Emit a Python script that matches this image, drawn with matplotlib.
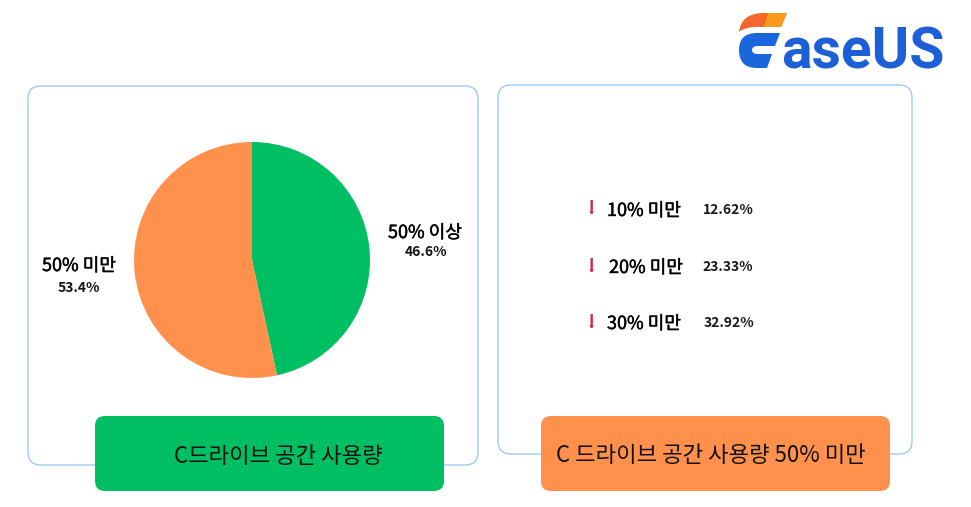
import matplotlib
matplotlib.use("Agg")
import matplotlib.pyplot as plt
import matplotlib.patheffects as pe
from matplotlib.patches import FancyBboxPatch, PathPatch
from matplotlib.path import Path

plt.rcParams['font.family'] = ['Noto Sans CJK KR', 'DejaVu Sans']

pie_labels = ['50% 이상', '50% 미만']
pie_values = [46.6, 53.4]
pie_colors = ['#00BF63', '#FF914D']
pie_pct = ['46.6%', '53.4%']
tier_labels = ['10% 미만', '20% 미만', '30% 미만']
tier_values = ['12.62%', '23.33%', '32.92%']
left_title = 'C드라이브 공간 사용량'
right_title = 'C 드라이브 공간 사용량 50% 미만'

W, H = 971, 507
fig = plt.figure(figsize=(W/100, H/100), dpi=100, facecolor='white')
bg = fig.add_axes([0, 0, 1, 1])
bg.set_xlim(0, W); bg.set_ylim(H, 0); bg.axis('off')

def rbox(x0, y0, x1, y1, r, fc, ec, lw=0.9, z=1):
    bg.add_patch(FancyBboxPatch((x0+r, y0+r), x1-x0-2*r, y1-y0-2*r,
                 boxstyle=f'round,pad={r},rounding_size={r}', fc=fc, ec=ec, lw=lw, zorder=z))

rbox(28, 86, 478, 465, 13, 'white', '#93C5FA')
rbox(498, 85, 912, 454, 13, 'white', '#93C5FA')
rbox(95, 416, 444, 491, 10, pie_colors[0], 'none', z=2)
rbox(541, 416, 890, 491, 10, pie_colors[1], 'none', z=2)

bg.text(278, 456.5, left_title, fontsize=16, ha='center', va='center', color='#111111', zorder=3)
bg.text(711, 455.5, right_title, fontsize=16, ha='center', va='center', color='#111111', zorder=3)

# pie
cx, cy, r = 252, 260, 118
ax = fig.add_axes([(cx-r)/W, 1-(cy+r)/H, 2*r/W, 2*r/H])
ax.pie(pie_values, colors=pie_colors, startangle=90, counterclock=False, radius=1)
ax.set_xlim(-1, 1); ax.set_ylim(-1, 1); ax.set_aspect('auto')

semi = [pe.withStroke(linewidth=0.3, foreground='black')]
bg.text(425, 233, pie_labels[0], fontsize=13, ha='center', va='center', color='black', path_effects=semi)
bg.text(426.5, 251.5, pie_pct[0], fontsize=10, fontweight='bold', ha='center', va='center', color='#111111')
bg.text(79, 266, pie_labels[1], fontsize=13, ha='center', va='center', color='black', path_effects=semi)
bg.text(79, 287.5, pie_pct[1], fontsize=10, fontweight='bold', ha='center', va='center', color='#111111')

# right-hand rows
tier_y = [211, 268, 324]
tier_x = [644, 646, 644]
val_x = [728.5, 728, 729]
excl_y = [209, 266, 322]
for lab, val, y, x, vx, ey in zip(tier_labels, tier_values, tier_y, tier_x, val_x, excl_y):
    bg.text(590.5, ey, '!', fontsize=14, fontweight='bold', color='#D2293F', ha='center', va='center')
    bg.text(x, y, lab, fontsize=13, color='black', ha='center', va='center', path_effects=semi)
    bg.text(vx, y - 1, val, fontsize=10, fontweight='bold', color='#1a1a1a', ha='center', va='center')

# logo
M, L, C, Z = Path.MOVETO, Path.LINETO, Path.CURVE3, Path.CLOSEPOLY
flame = Path([(739, 32), (741, 14), (762, 13), (787, 13), (781, 27), (762, 27), (746, 26), (739, 32), (739, 32)],
             [M, C, C, L, L, L, C, C, Z])
bg.add_patch(PathPatch(flame, fc='#F5672A', ec='none'))
flame_tip = Path([(768, 13), (787, 13), (781, 27), (764, 27), (768, 13)], [M, L, L, L, Z])
bg.add_patch(PathPatch(flame_tip, fc='#FB9A1B', ec='none'))
mark = Path([(780, 33), (775, 46), (758, 46), (752, 46), (752, 50), (752, 54), (758, 54),
             (772, 54), (767, 68), (757, 68), (739, 68), (739, 50), (739, 33), (757, 33), (780, 33)],
            [M, L, L, C, C, C, C, L, L, L, C, C, C, C, Z])
bg.add_patch(PathPatch(mark, fc='#1A66DC', ec='none'))
bg.text(781, 68.5, 'aseUS', fontsize=41, fontweight='bold', family='Roboto', color='#1D5FD6',
        ha='left', va='baseline')

fig.savefig('out.png', dpi=100, facecolor='white')
